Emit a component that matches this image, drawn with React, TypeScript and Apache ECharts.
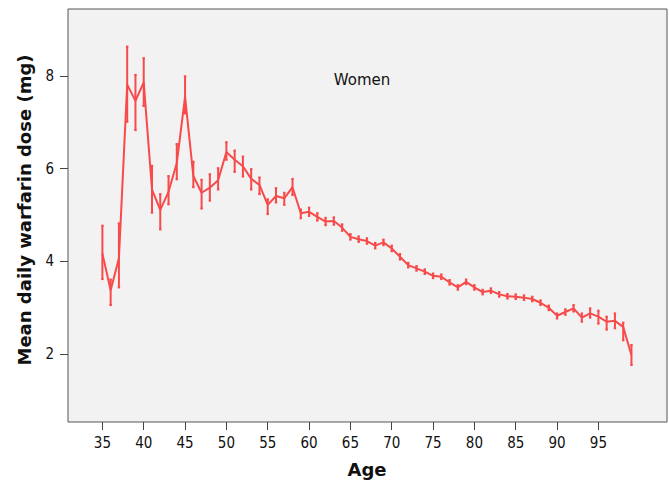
import React, { useEffect, useRef } from "react";
import * as echarts from "echarts";

const ages = [
  35, 36, 37, 38, 39, 40, 41, 42, 43, 44, 45, 46, 47, 48, 49, 50, 51, 52, 53, 54, 55, 56, 57, 58, 59,
  60, 61, 62, 63, 64, 65, 66, 67, 68, 69, 70, 71, 72, 73, 74, 75, 76, 77, 78, 79,
  80, 81, 82, 83, 84, 85, 86, 87, 88, 89, 90, 91, 92, 93, 94, 95, 96, 97, 98, 99,
];
const means = [
  4.17, 3.38, 4.07, 7.81, 7.46, 7.86, 5.55, 5.11, 5.5, 6.12, 7.55, 5.84, 5.48, 5.59, 5.75, 6.36, 6.19, 6.05, 5.78, 5.65, 5.22, 5.41, 5.36, 5.6, 5.04,
  5.07, 4.96, 4.86, 4.87, 4.73, 4.53, 4.48, 4.44, 4.34, 4.41, 4.28, 4.1, 3.92, 3.85, 3.78, 3.69, 3.67, 3.55, 3.44, 3.56,
  3.44, 3.34, 3.37, 3.29, 3.25, 3.24, 3.22, 3.19, 3.11, 3.0, 2.83, 2.91, 2.99, 2.79, 2.88, 2.81, 2.7, 2.72, 2.59, 1.98,
];
const lows = [
  3.62, 3.06, 3.44, 7.01, 6.83, 7.35, 5.05, 4.69, 5.23, 5.77, 7.19, 5.6, 5.14, 5.31, 5.55, 6.19, 5.93, 5.83, 5.55, 5.45, 5.02, 5.27, 5.22, 5.43, 4.93,
  4.98, 4.88, 4.78, 4.79, 4.66, 4.47, 4.42, 4.38, 4.28, 4.35, 4.22, 4.04, 3.87, 3.8, 3.73, 3.64, 3.62, 3.5, 3.39, 3.51,
  3.39, 3.29, 3.32, 3.24, 3.2, 3.19, 3.17, 3.14, 3.06, 2.95, 2.77, 2.85, 2.92, 2.7, 2.79, 2.66, 2.53, 2.56, 2.3, 1.77,
];
const highs = [
  4.77, 3.61, 4.82, 8.63, 8.02, 8.38, 6.06, 5.45, 5.84, 6.53, 7.99, 6.15, 5.76, 5.88, 6.01, 6.57, 6.39, 6.26, 5.99, 5.81, 5.34, 5.58, 5.48, 5.78, 5.12,
  5.16, 5.04, 4.94, 4.95, 4.8, 4.59, 4.54, 4.5, 4.4, 4.47, 4.34, 4.16, 3.97, 3.9, 3.83, 3.74, 3.72, 3.6, 3.49, 3.61,
  3.49, 3.39, 3.42, 3.34, 3.3, 3.29, 3.27, 3.24, 3.16, 3.05, 2.88, 2.97, 3.06, 2.88, 2.99, 2.94, 2.81, 2.88, 2.68, 2.2,
];
const xTicks = [35, 40, 45, 50, 55, 60, 65, 70, 75, 80, 85, 90, 95];
const yTicks = [2, 4, 6, 8];

const RED = "#f84a4a";
const FONT = "DejaVu Sans Condensed";

export default function App() {
  const ref = useRef<HTMLDivElement>(null);
  useEffect(() => {
    if (!ref.current) return;
    const chart = echarts.init(ref.current, null, { renderer: "svg" });
    const lineData = ages.map((a, i) => [a, means[i]]);
    const errData = ages.map((a, i) => [a, lows[i], highs[i]]);
    chart.setOption({
      animation: false,
      backgroundColor: "#ffffff",
      grid: {
        left: 68,
        top: 9,
        right: 2,
        bottom: 59,
        show: true,
        backgroundColor: "#f2f2f2",
        borderColor: "#555555",
        borderWidth: 1,
      },
      xAxis: {
        type: "value",
        min: 30.84,
        max: 103.3,
        axisLine: { show: false },
        splitLine: { show: false },
        axisTick: {
          show: true,
          length: 8,
          customValues: xTicks,
          lineStyle: { color: "#444", width: 1 },
        },
        axisLabel: {
          customValues: xTicks,
          color: "#111",
          fontFamily: FONT,
          fontSize: 15,
          margin: 13,
        },
      },
      yAxis: {
        type: "value",
        min: 0.54,
        max: 9.44,
        axisLine: { show: false },
        splitLine: { show: false },
        axisTick: {
          show: true,
          length: 8,
          customValues: yTicks,
          lineStyle: { color: "#444", width: 1 },
        },
        axisLabel: {
          customValues: yTicks,
          color: "#111",
          fontFamily: FONT,
          fontSize: 15,
          margin: 14,
        },
      },
      graphic: [
        {
          type: "text",
          x: 24,
          y: 210,
          rotation: Math.PI / 2,
          style: {
            text: "Mean daily warfarin dose (mg)",
            textAlign: "center",
            textVerticalAlign: "middle",
            font: "bold 18px 'DejaVu Sans'",
            fill: "#111",
          },
        },
        {
          type: "text",
          x: 367,
          y: 469,
          style: {
            text: "Age",
            textAlign: "center",
            textVerticalAlign: "middle",
            font: "bold 18px 'DejaVu Sans'",
            fill: "#111",
          },
        },
        {
          type: "text",
          x: 362,
          y: 80,
          style: {
            text: "Women",
            textAlign: "center",
            textVerticalAlign: "middle",
            font: "15px 'DejaVu Sans'",
            fill: "#111",
          },
        },
      ],
      series: [
        {
          type: "custom",
          data: errData,
          encode: { x: 0, y: [1, 2] },
          z: 2,
          renderItem: (params: any, api: any) => {
            const x = api.value(0);
            const lo = api.coord([x, api.value(1)]);
            const hi = api.coord([x, api.value(2)]);
            const c = 1.2;
            const style = { stroke: RED, lineWidth: 2 };
            return {
              type: "group",
              children: [
                { type: "line", shape: { x1: lo[0], y1: lo[1], x2: hi[0], y2: hi[1] }, style },
                { type: "line", shape: { x1: lo[0] - c, y1: lo[1], x2: lo[0] + c, y2: lo[1] }, style },
                { type: "line", shape: { x1: hi[0] - c, y1: hi[1], x2: hi[0] + c, y2: hi[1] }, style },
              ],
            };
          },
        },
        {
          type: "line",
          data: lineData,
          symbol: "none",
          z: 3,
          lineStyle: { color: RED, width: 2 },
        },
      ],
    });
    return () => chart.dispose();
  }, []);
  return (
    <div
      ref={ref}
      style={{ position: "fixed", left: 0, top: 0, width: 669, height: 481 }}
    />
  );
}
